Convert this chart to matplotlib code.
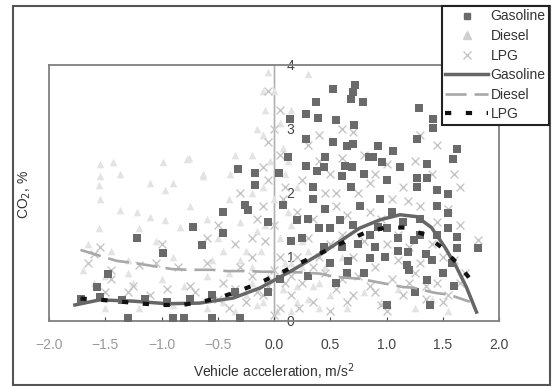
import numpy as np
import matplotlib
matplotlib.use("Agg")
import matplotlib.pyplot as plt
from matplotlib.patches import Rectangle
from matplotlib.lines import Line2D

plt.rcParams['font.family'] = ['Liberation Sans', 'DejaVu Sans']

# scatter data (x = acceleration m/s2, y = CO2 %)
gas_x = [0.52, 0.72, 0.70, 0.68, 0.79, 1.29, 0.55, 0.71, 1.41, 1.41, 0.52, 0.65, 0.70, 0.45, 0.92,
         0.88, 0.84, 1.06, 0.96, 1.12, 1.27, 1.36, 1.27, 1.36, 1.63, 1.59, 0.63, 0.69, 0.60, 0.44,
         0.37, 0.28, 0.14, 0.39, 0.28, 0.28, 0.38, 0.12, -0.32, -0.17, 0.04, -0.17,
         -0.26, -0.23, -0.45, -0.72, -0.45, -0.64, -0.05, 0.08, 0.20,
         1.27, 1.55, 1.45, 1.55, 1.63, 1.63, 1.81, 1.58, 1.05, 0.92, 0.99, 1.18, 1.19, 0.85, 0.66,
         0.44, 0.59, 0.76, 0.94, 0.68, 1.00, 1.36, 1.39, 1.24, 1.10,
         -1.22, -0.99, -1.48, -1.57,
         -1.72, -1.55, -1.35, -1.15, -0.95, -0.75, -0.55, -0.35, -1.30, -0.90, -0.80, -0.55, -0.30,
         0.25, 0.35, 0.45, 0.50, 0.30, 0.55, 0.75, 0.80, 0.90, 1.15, 1.30, 1.35, 1.45, 1.50, 1.60, 1.25,
         0.30, 0.40, 0.60, 0.70, 0.85, 1.00, 1.10, 1.20, 1.40, 1.30, 0.50, 0.65, 1.55, 1.45, 0.80,
         1.00, 0.35, 0.15, -0.05, 0.05]
gas_y = [3.62, 3.69, 3.58, 3.47, 3.42, 3.33, 3.14, 3.07, 3.15, 3.01, 2.79, 2.73, 2.76, 2.57, 2.73,
         2.57, 2.57, 2.65, 2.48, 2.40, 2.84, 2.45, 2.24, 2.24, 2.68, 2.53, 2.42, 2.40, 2.26, 2.40,
         3.42, 3.23, 3.15, 3.17, 2.84, 2.42, 2.34, 2.57, 2.37, 2.32, 2.32, 2.13,
         1.82, 1.74, 1.71, 1.47, 1.38, 1.19, 1.54, 1.82, 1.58,
         2.09, 1.98, 1.79, 1.69, 1.32, 1.14, 1.14, 0.91, 1.71, 1.47, 1.00, 0.88, 1.08, 0.99, 0.93,
         1.16, 1.58, 1.79, 1.90, 2.10, 0.25, 0.64, 0.25, 1.27, 1.30,
         1.30, 1.07, 0.74, 0.53,
         0.35, 0.38, 0.33, 0.35, 0.30, 0.35, 0.40, 0.45, 0.05, 0.05, 0.05, 0.05, 0.05,
         1.30, 1.90, 1.75, 1.45, 0.70, 0.60, 1.20, 0.75, 1.15, 1.55, 1.60, 1.05, 1.35, 0.75, 0.55, 0.45,
         1.60, 1.45, 1.15, 1.50, 1.35, 1.45, 1.10, 0.80, 0.95, 1.35, 0.90, 0.75, 1.45, 2.05, 2.30,
         2.20, 2.10, 1.25, 0.45, 0.65]

dsl_x = [-1.55, -1.43, -1.37, -1.55, -1.56, -0.99, -1.10, -0.90, -0.97, -1.55, -1.37, -1.22, -1.10,
         -0.97, -1.56, -0.84, -0.76, -0.63, -0.39, -0.77, -0.63, -1.65, -1.45, -1.30, -1.20, -1.05,
         -0.90, -0.75, -0.60, -0.50, -0.40, -0.30, -0.25, -0.55, -1.70, -1.50, -1.25, -1.00, -0.80,
         -0.60, -0.40, -0.20, -0.35, -0.20, -0.15,
         -0.05, 0.30, 0.00, -0.08, 0.05, -0.10, 0.08, -0.04, 0.10, -0.10, 0.00, 0.12, -0.08, 0.05,
         -0.12, 0.10, -0.05, 0.08, -0.10, 0.03,
         0.20, 0.35, 0.50, 0.65, 0.80, 0.95, 1.10, 1.25, 1.40, 1.55, 0.30, 0.45, 0.60, 0.15, 0.20, 0.25,
         -0.45, -0.35, -0.25, -0.15, -0.30, -0.20, -0.45, 0.15, 0.20, 0.30, 0.40, 0.40, 0.15, 0.25,
         -0.60, -0.90, -1.20, -1.50, -1.60, -1.30, -0.15, 0.15, -0.10, 0.12, -0.20]
dsl_y = [2.45, 2.48, 2.29, 2.26, 2.13, 2.48, 2.16, 2.16, 2.05, 1.90, 1.74, 1.71, 1.63,
         1.58, 1.46, 1.47, 2.55, 2.29, 2.29, 2.53, 2.26, 1.20, 1.10, 0.95, 1.45, 1.25,
         1.00, 1.80, 1.60, 1.30, 1.90, 1.55, 1.10, 0.95, 0.80, 0.70, 0.60, 0.65, 0.55,
         0.70, 0.75, 0.60, 2.60, 2.00, 1.40,
         3.89, 3.86, 3.60, 3.30, 3.10, 2.90, 2.70, 2.50, 2.30, 2.10, 1.90, 1.70, 1.50, 1.30,
         1.10, 0.90, 0.70, 0.50, 0.30, 0.15,
         0.30, 0.55, 0.40, 0.20, 0.45, 0.30, 0.50, 0.20, 0.35, 0.15, 1.10, 0.85, 1.00, 1.50, 2.10, 0.85,
         0.30, 0.15, 0.40, 0.25, 0.95, 0.85, 1.10, 0.15, 0.55, 0.35, 0.20, 0.60, 0.90, 1.25,
         0.20, 0.25, 0.20, 0.20, 0.60, 0.75, 3.00, 3.30, 3.60, 2.50, 2.60]

lpg_x = [-1.60, -1.45, -1.25, -1.45, -1.65, -1.20, -1.05, -0.85, -0.75, -0.60, -0.45, -0.30, -1.50,
         -1.30, -1.10, -0.95, -0.70, -0.50, -0.35, -0.20, -1.55, -1.00, -0.60, -0.35, -0.20, -0.15,
         -0.30, -0.50, -0.10, -0.05,
         0.00, 0.05, -0.05, 0.08, 0.00, -0.08, 0.05, 0.00, 0.10, -0.10, 0.05, 0.00,
         0.15, 0.25, 0.35, 0.45, 0.55, 0.65, 0.75, 0.85, 0.95, 1.05, 1.15, 1.25, 1.35, 1.45, 1.55, 1.65,
         0.20, 0.30, 0.40, 0.50, 0.60, 0.70, 0.80, 0.90, 1.00, 1.10, 1.20, 1.30, 1.40, 1.50, 1.60, 1.70,
         0.20, 0.35, 0.45, 0.55, 0.65, 0.75, 0.85, 0.95, 1.05, 1.19, 1.30, 1.45, 1.55, 1.65, 1.81,
         0.25, 0.40, 0.50, 0.60, 0.70, 0.80, 0.90, 1.00, 1.25, 1.40, 1.60, 0.40, 0.60, 1.45, 1.65, 0.30,
         -0.40, -0.25, -0.15, -0.05, 0.15, 0.22, 0.35, 0.50, 0.60, 0.70, 0.90, 1.00, 1.20, 1.35, 1.50,
         1.10, 0.85, 1.15, 1.30, 0.55, -0.20, -0.10, 0.10, 0.05, -0.05]
lpg_y = [1.05, 0.65, 0.55, 0.80, 0.90, 0.88, 0.90, 0.85, 0.55, 0.90, 0.60, 0.85, 0.45,
         0.45, 0.40, 0.50, 0.45, 0.35, 0.50, 0.70, 1.15, 1.20, 1.30, 1.20, 1.00, 1.60,
         2.00, 1.50, 2.40, 2.80,
         3.00, 2.60, 2.20, 1.90, 1.50, 1.25, 1.00, 0.80, 0.60, 0.40, 0.20, 0.10,
         0.40, 0.60, 0.30, 0.75, 0.50, 0.30, 0.70, 0.55, 0.25, 0.65, 0.40, 0.75, 0.35, 0.60, 0.40, 0.60,
         1.00, 1.30, 1.00, 1.20, 1.35, 1.00, 1.25, 0.85, 1.20, 0.95, 1.15, 0.90, 1.20, 1.00, 0.95, 0.75,
         1.70, 1.60, 2.00, 1.80, 1.65, 2.00, 1.70, 1.60, 1.90, 1.87, 1.80, 1.55, 1.75, 1.50, 1.27,
         2.20, 2.50, 2.30, 2.55, 2.95, 2.60, 2.30, 2.45, 2.50, 2.30, 2.30, 2.90, 3.00, 2.75, 2.10, 2.75,
         0.20, 0.30, 0.45, 0.55, 0.70, 0.20, 0.85, 0.15, 0.65, 0.40, 0.45, 0.15, 0.60, 0.55, 0.30,
         1.35, 2.15, 2.10, 2.90, 2.00, 1.30, 1.80, 2.10, 3.30, 3.60]

# fitted curves
gfit_x = [-1.77, -1.55, -1.25, -0.95, -0.66, -0.36, -0.12, 0.17, 0.47, 0.76, 0.94, 1.12, 1.27,
          1.40, 1.52, 1.62, 1.71, 1.80]
gfit_y = [0.25, 0.33, 0.31, 0.27, 0.28, 0.36, 0.52, 0.80, 1.11, 1.45, 1.58, 1.66, 1.63,
          1.46, 1.15, 0.85, 0.53, 0.14]
dfit_x = [-1.72, -1.55, -1.40, -1.22, -1.08, -0.90, -0.75, -0.55, -0.42, -0.23, -0.10, 0.05, 0.23,
          0.41, 0.54, 0.76, 0.91, 1.15, 1.24, 1.43, 1.56, 1.74]
dfit_y = [1.11, 1.02, 0.94, 0.90, 0.86, 0.81, 0.80, 0.80, 0.78, 0.78, 0.77, 0.77, 0.76,
          0.74, 0.69, 0.66, 0.61, 0.53, 0.52, 0.44, 0.41, 0.30]
lfit_x = [-1.72, -1.53, -1.35, -1.16, -0.99, -0.82, -0.64, -0.46, -0.28, -0.11, 0.08, 0.26, 0.44,
          0.63, 0.81, 0.99, 1.16, 1.34, 1.49, 1.64, 1.77]
lfit_y = [0.35, 0.33, 0.30, 0.27, 0.25, 0.25, 0.30, 0.38, 0.49, 0.61, 0.77, 0.93, 1.08,
          1.24, 1.38, 1.46, 1.46, 1.35, 1.15, 0.88, 0.60]

fig = plt.figure(figsize=(5.52, 3.86), dpi=100)
ax = fig.add_axes([49 / 552, 65 / 386, 450 / 552, 256 / 386])

ax.scatter(dsl_x, dsl_y, marker='^', s=30, color='#e3e3e3', linewidths=0, zorder=2)
ax.scatter(lpg_x, lpg_y, marker='x', s=32, color='#c6c6c6', linewidths=1.0, zorder=3)
ax.scatter(gas_x, gas_y, marker='s', s=28, color='#6a6a6a', linewidths=0, zorder=4)

ax.plot(dfit_x, dfit_y, color='#a8a8a8', lw=1.9, dashes=(8, 3), zorder=5)
ax.plot(gfit_x, gfit_y, color='#666666', lw=2.5, zorder=6)
ax.plot(lfit_x, lfit_y, color='#111111', lw=3.0, dashes=(1.5, 3.5), zorder=7)

ax.axvline(0, color='#b0b0b0', lw=1.0, zorder=1)

ax.set_xlim(-2, 2)
ax.set_ylim(0, 4)
ax.set_xticks(np.arange(-2, 2.01, 0.5))
ax.tick_params(axis='x', direction='in', length=3, pad=12, labelsize=10, colors='#444444')
for lab, v in zip(ax.get_xticklabels(), np.arange(-2, 2.01, 0.5)):
    if v < 0:
        lab.set_color('#999999')
ax.set_yticks([])
for sp in ax.spines.values():
    sp.set_color('#808080')
    sp.set_linewidth(1.3)

# y tick labels sit at x = 0
sec = ax.secondary_yaxis(0.5)
sec.set_yticks([0, 1, 2, 3, 4])
sec.tick_params(length=0, pad=9, labelsize=10, colors='#444444')
sec.spines['left'].set_visible(False)

ax.set_xlabel('Vehicle acceleration, m/s$^2$', fontsize=10, color='#333333', labelpad=7)
fig.text(25 / 552, 0.495, 'CO$_2$, %', rotation=90, ha='center', va='center',
         fontsize=10, color='#333333')

# outer frame
fig.patches.append(Rectangle((13 / 552, 1 / 386), 537 / 552, 379 / 386, transform=fig.transFigure,
                             fill=False, edgecolor='#555555', lw=1.5))

handles = [
    Line2D([], [], ls='none', marker='s', ms=5, color='#6a6a6a'),
    Line2D([], [], ls='none', marker='^', ms=6, color='#cfcfcf'),
    Line2D([], [], ls='none', marker='x', ms=6, mew=1, color='#c6c6c6'),
    Line2D([], [], color='#666666', lw=2.5),
    Line2D([], [], color='#a8a8a8', lw=1.9, dashes=(8, 3)),
    Line2D([], [], color='#111111', lw=3.0, dashes=(1.5, 3.5)),
]
labels = ['Gasoline', 'Diesel', 'LPG', 'Gasoline', 'Diesel', 'LPG']
leg = fig.legend(handles, labels, loc='upper right', bbox_to_anchor=(549 / 552, 380 / 386),
                 fontsize=10, frameon=True, fancybox=False, framealpha=1, edgecolor='#222222',
                 handlelength=3.1, handletextpad=0.15, labelspacing=0.4, borderpad=0.25,
                 borderaxespad=0)
leg.get_frame().set_linewidth(1.5)
for t in leg.get_texts():
    t.set_color('#333333')

fig.savefig('out.png', dpi=100)
